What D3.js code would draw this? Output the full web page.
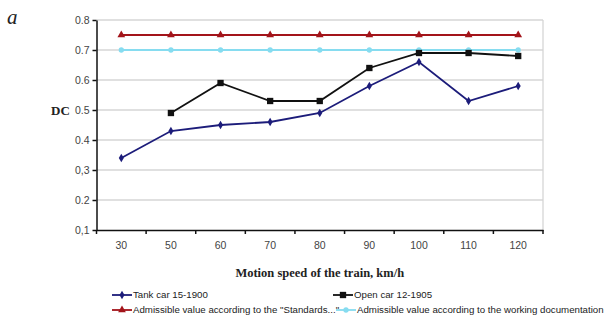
<!DOCTYPE html>
<html>
<head>
<meta charset="utf-8">
<script src="https://cdn.jsdelivr.net/npm/d3@7"></script>
<style>
body { margin: 0; background: #fff; }
svg { display: block; }
</style>
</head>
<body>
<svg id="chart" width="607" height="320"></svg>
<script>
var speeds = ["30", "50", "60", "70", "80", "90", "100", "110", "120"]
var tankCar = [0.34, 0.43, 0.45, 0.46, 0.49, 0.58, 0.66, 0.53, 0.58]
var openCar = [null, 0.49, 0.59, 0.53, 0.53, 0.64, 0.69, 0.69, 0.68]
var standards = [0.75, 0.75, 0.75, 0.75, 0.75, 0.75, 0.75, 0.75, 0.75]
var workingDoc = [0.70, 0.70, 0.70, 0.70, 0.70, 0.70, 0.70, 0.70, 0.70]
var yTicks = [0.1, 0.2, 0.3, 0.4, 0.5, 0.6, 0.7, 0.8]
var yTickLabels = ["0,1", "0.2", "0,3", "0.4", "0.5", "0.6", "0.7", "0.8"]

var svg = d3.select('svg#chart')
var margin = {left: 96.5, right: 64, top: 20, bottom: 90}
var width = 607, height = 320
var tickFont = "10.5px 'Liberation Sans', Arial, sans-serif"

var x = d3.scaleBand()
    .domain(speeds)
    .range([margin.left, width - margin.right])
var y = d3.scaleLinear()
    .domain([0.1, 0.8])
    .range([height - margin.bottom, margin.top])

// grid + frame
svg.append("g")
    .selectAll("line")
    .data(yTicks.slice(1))
    .enter().append("line")
      .attr("x1", margin.left)
      .attr("x2", width - margin.right)
      .attr("y1", d => y(d))
      .attr("y2", d => y(d))
      .attr("stroke", "#c2c2c2")
      .attr("stroke-width", 1.2)
svg.append("line")
    .attr("x1", width - margin.right).attr("x2", width - margin.right)
    .attr("y1", margin.top).attr("y2", height - margin.bottom)
    .attr("stroke", "#d2d2d2").attr("stroke-width", 1.2)

// axes
var xAxis = g => g
    .attr("transform", `translate(0,${height - margin.bottom})`)
    .call(d3.axisBottom(x).tickSize(0).tickPadding(12))
    .call(g => g.select(".domain").attr("stroke", "#111").attr("stroke-width", 1.5))
    .call(g => g.selectAll(".tick text").attr("fill", "#444").style("font", tickFont))
var yAxis = g => g
    .attr("transform", `translate(${margin.left},0)`)
    .call(d3.axisLeft(y).tickValues(yTicks).tickSize(4).tickPadding(3).tickSizeOuter(0)
      .tickFormat((d, i) => yTickLabels[i]))
    .call(g => g.select(".domain").attr("stroke", "#111").attr("stroke-width", 1.5))
    .call(g => g.selectAll(".tick line").attr("stroke", "#111").attr("stroke-width", 1.5))
    .call(g => g.selectAll(".tick text").attr("fill", "#444").style("font", tickFont))

svg.append("g").call(xAxis)
svg.append("g").call(yAxis)

// x band boundary ticks
svg.append("g")
    .selectAll("line")
    .data(speeds.concat(["end"]))
    .enter().append("line")
      .attr("x1", (d, i) => i < speeds.length ? x(d) : x.range()[1])
      .attr("x2", (d, i) => i < speeds.length ? x(d) : x.range()[1])
      .attr("y1", height - margin.bottom)
      .attr("y2", height - margin.bottom + 4)
      .attr("stroke", "#111").attr("stroke-width", 1.5)

svg.append("text")
    .attr("x", 51).attr("y", y(0.5) + 4.5)
    .style("font", "bold 13px 'Liberation Serif', 'Times New Roman', serif")
    .attr("fill", "#222")
    .text("DC")
svg.append("text")
    .attr("x", 7).attr("y", 24)
    .style("font", "italic 21px 'Liberation Serif', 'Times New Roman', serif")
    .attr("fill", "#222")
    .text("a")
svg.append("text")
    .attr("x", (x.range()[0] + x.range()[1]) / 2).attr("y", 277)
    .attr("text-anchor", "middle")
    .style("font", "bold 12.5px 'Liberation Serif', 'Times New Roman', serif")
    .attr("fill", "#222")
    .text("Motion speed of the train, km/h")

var series = [
  {name: "Tank car 15-1900", values: tankCar, color: "#1c1c7a", shape: d3.symbolDiamond, size: 22},
  {name: "Open car 12-1905", values: openCar, color: "#111111", shape: d3.symbolSquare, size: 40},
  {name: "Admissible value according to the \"Standards...\"", values: standards, color: "#a3141a", shape: d3.symbolTriangle, size: 26},
  {name: "Admissible value according to the working documentation", values: workingDoc, color: "#86dcf0", shape: d3.symbolCircle, size: 22}
]

var line = d3.line()
    .defined(d => d != null)
    .x((d, i) => x(speeds[i]) + x.bandwidth() / 2)
    .y(d => y(d))

var order = [3, 2, 1, 0]
order.forEach(k => {
  var s = series[k]
  svg.append("path")
      .attr("fill", "none")
      .attr("stroke", s.color)
      .attr("stroke-width", 1.8)
      .attr("d", line(s.values))
  svg.append("g")
    .selectAll("path")
    .data(s.values.map((v, i) => ({v: v, i: i})).filter(d => d.v != null))
    .enter().append("path")
      .attr("d", d3.symbol().type(s.shape).size(s.size))
      .attr("transform", d => `translate(${x(speeds[d.i]) + x.bandwidth() / 2},${y(d.v)})`)
      .attr("fill", s.color)
})

// legend
var legendPos = [[112, 295], [333, 295], [112, 310], [336, 310]]
var legend = svg.append("g")
    .selectAll("g")
    .data(series)
    .enter().append("g")
      .attr("transform", (d, i) => `translate(${legendPos[i][0]},${legendPos[i][1]})`)
legend.append("line")
    .attr("x1", 0).attr("x2", 20)
    .attr("stroke", d => d.color).attr("stroke-width", 1.8)
legend.append("path")
    .attr("d", d => d3.symbol().type(d.shape).size(d.size)())
    .attr("transform", "translate(10,0)")
    .attr("fill", d => d.color)
legend.append("text")
    .attr("x", 21).attr("y", 3.3)
    .style("font", "9.7px 'Liberation Sans', Arial, sans-serif")
    .attr("fill", "#222")
    .text(d => d.name)
</script>
</body>
</html>
